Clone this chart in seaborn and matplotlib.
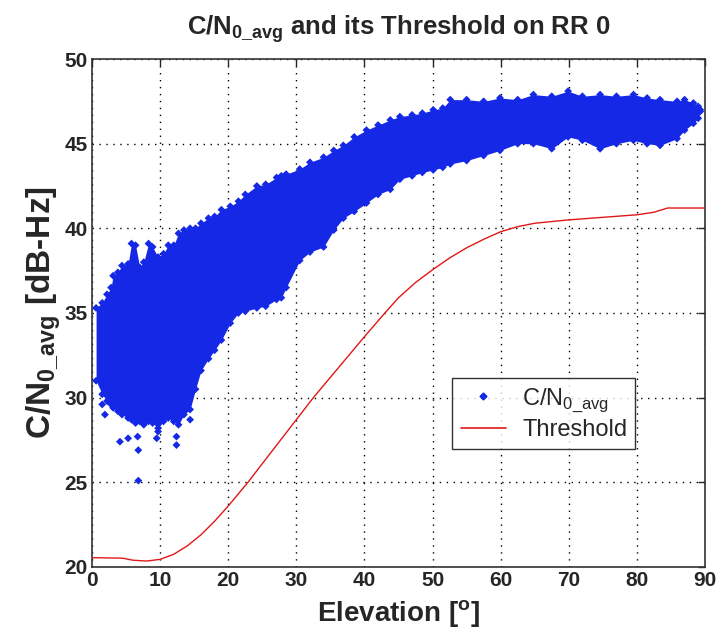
import matplotlib
matplotlib.use("Agg")
import matplotlib.pyplot as plt
from matplotlib.lines import Line2D
import seaborn as sns
import pandas as pd

# ---- data ----
# Threshold curve
thr_elev = [0, 4.5, 6, 8, 10, 12, 14, 16, 18, 20, 22.9, 25, 27.5, 30, 32.5, 35, 37.5,
            40, 43, 45, 47.5, 50, 52.5, 55, 57.5, 60, 62.5, 65, 70, 75, 80, 82.5,
            84.5, 90]
thr_cn0 = [20.55, 20.52, 20.4, 20.35, 20.45, 20.75, 21.25, 21.9, 22.7, 23.6, 25.0,
           26.1, 27.4, 28.7, 30.0, 31.2, 32.4, 33.6, 35.0, 35.9, 36.8, 37.55, 38.25,
           38.85, 39.35, 39.8, 40.1, 40.3, 40.5, 40.65, 40.8, 40.95, 41.2, 41.2]

# Envelope of the dense C/N0 scatter cloud
cloud_elev = [0.6, 1.5, 2.2, 2.8, 3.1, 3.8, 4.4, 5.3, 5.8, 6.4, 7.0, 7.6, 8.3, 8.9,
              9.7, 10.5, 11.2, 12.0, 12.7, 13.5, 14.4, 15.2, 16.0, 17.1, 18.0, 19.0,
              20.3, 21.5, 22.5, 24.2, 25.5, 27.1, 27.8, 28.5, 30.5, 32.0, 34.0, 35.5,
              36.9, 38.5, 40.3, 42.0, 43.8, 45.2, 47.0, 48.5, 50.1, 51.5, 52.6, 55.0,
              57.5, 59.9, 62.5, 64.8, 67.5, 69.9, 72.0, 74.6, 77.0, 79.5, 81.5, 83.4,
              85.9, 87.0, 88.3, 89.0, 89.3]
cloud_upper = [35.3, 35.6, 36.1, 36.5, 37.2, 37.4, 37.8, 37.9, 39.1, 39.0, 37.7, 38.0,
               39.1, 38.9, 38.3, 38.5, 39.0, 39.0, 39.7, 39.9, 40.0, 40.0, 40.3, 40.6,
               40.7, 41.1, 41.3, 41.6, 42.0, 42.5, 42.6, 43.0, 43.1, 43.2, 43.5, 43.9,
               44.2, 44.6, 44.9, 45.4, 45.8, 46.1, 46.4, 46.6, 46.7, 46.8, 47.0, 47.1,
               47.6, 47.6, 47.5, 47.7, 47.6, 47.9, 47.8, 48.1, 47.8, 47.9, 47.8, 47.9,
               47.7, 47.6, 47.5, 47.6, 47.4, 47.2, 47.0]
cloud_lower = [31.0, 30.2, 29.8, 29.6, 29.4, 29.2, 29.0, 28.8, 28.7, 28.5, 28.6, 28.4,
               28.6, 28.5, 28.2, 28.6, 28.8, 28.6, 28.4, 29.0, 29.3, 30.5, 31.6, 32.3,
               32.8, 33.4, 34.4, 35.0, 35.1, 35.3, 35.4, 35.8, 35.9, 36.5, 38.1, 38.6,
               38.9, 39.9, 40.6, 41.0, 41.5, 42.0, 42.3, 42.9, 43.1, 43.3, 43.45, 43.6,
               43.8, 44.0, 44.3, 44.6, 45.0, 45.0, 44.7, 45.4, 45.2, 44.7, 45.0, 45.2,
               45.0, 44.9, 45.3, 45.8, 46.2, 46.5, 46.9]

# Isolated low samples below the cloud
out_elev = [1.5, 1.9, 4.1, 5.3, 6.7, 6.8, 6.8, 9.5, 9.7, 12.4, 12.4, 14.4]
out_cn0 = [29.6, 29.0, 27.4, 27.6, 27.7, 26.9, 25.1, 27.6, 28.0, 27.7, 27.2, 28.7]

BLUE = "#1428e6"
RED = "#e01818"

sns.set_style("white")
plt.rcParams["font.family"] = ["Liberation Sans", "DejaVu Sans"]
plt.rcParams["mathtext.fontset"] = "custom"
plt.rcParams["mathtext.rm"] = "Liberation Sans"
plt.rcParams["mathtext.bf"] = "Liberation Sans:bold"

fig = plt.figure(figsize=(7.21, 6.40), dpi=100)
ax = fig.add_axes([0.1276, 0.1141, 0.8502, 0.7937])

ax.fill_between(cloud_elev, cloud_lower, cloud_upper, color=BLUE, linewidth=0, zorder=2)

edge_df = pd.DataFrame({
    "elev": cloud_elev + cloud_elev + out_elev,
    "cn0": cloud_upper + cloud_lower + out_cn0,
})
sns.scatterplot(data=edge_df, x="elev", y="cn0", marker="D", s=16, color=BLUE,
                edgecolor="none", ax=ax, zorder=3, legend=False)

thr_df = pd.DataFrame({"elev": thr_elev, "cn0": thr_cn0})
sns.lineplot(data=thr_df, x="elev", y="cn0", color=RED, linewidth=1.0, sort=False,
             estimator=None, ax=ax, zorder=4)

ax.set_xlim(0, 90)
ax.set_ylim(20, 50)
ax.set_xticks(range(0, 91, 10))
ax.set_yticks(range(20, 51, 5))
ax.set_axisbelow(True)
ax.grid(True, color="black", linestyle=(0, (1, 4)), linewidth=1.0)
for s in ax.spines.values():
    s.set_visible(True)
    s.set_color("#333333")
    s.set_linewidth(1.2)
ax.tick_params(direction="in", top=True, right=True, length=5, width=1,
               labelsize=15, pad=3)
for lab in ax.get_xticklabels() + ax.get_yticklabels():
    lab.set_fontweight("bold")

ax.set_xlabel("Elevation [$\\mathbf{^o}$]", fontsize=20, fontweight="bold", labelpad=6)
ax.set_ylabel("C/N$_{\\mathbf{0\\_avg}}$ [dB-Hz]", fontsize=24, fontweight="bold", labelpad=1)
ax.set_title("C/N$_{\\mathbf{0\\_avg}}$ and its Threshold on RR 0", fontsize=18.5,
             fontweight="bold", pad=18)

handles = [
    Line2D([0], [0], marker="D", markersize=3.5, linestyle="none", color=BLUE),
    Line2D([0], [0], color=RED, linewidth=1.2),
]
leg = ax.legend(handles, ["C/N$_{\\mathrm{0\\_avg}}$", "Threshold"], loc="upper left",
                bbox_to_anchor=(0.588, 0.373), fontsize=17, frameon=True, fancybox=False,
                handlelength=1.9, handletextpad=0.7, borderpad=0.35, labelspacing=0.22,
                borderaxespad=0.0)
leg.get_frame().set_edgecolor("black")
leg.get_frame().set_linewidth(1.0)
leg.set_zorder(10)

fig.savefig("out.png", dpi=100)
